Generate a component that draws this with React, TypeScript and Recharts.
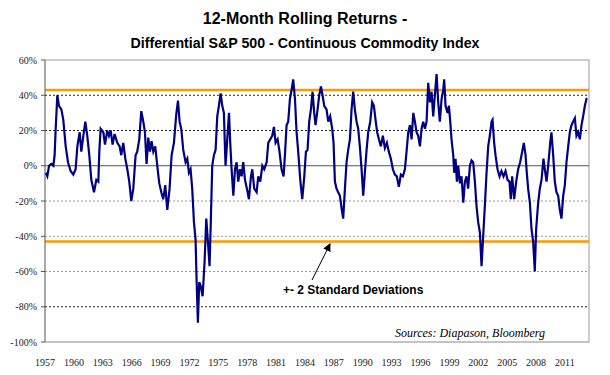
import React from 'react';
import { LineChart, Line, XAxis, YAxis, ReferenceLine } from 'recharts';

// Decimal years of the readings
const dates1 = [1957.07,1957.24,1957.42,1957.66,1957.87,1958.00,1958.11,1958.28,1958.45,1958.70,1958.90,1959.15,1959.39,1959.66,1959.94,1960.18,1960.36,1960.60,1960.77,1960.98,1961.19,1961.39,1961.60,1961.81,1962.09,1962.33,1962.54,1962.64,1962.78,1963.06,1963.23,1963.47,1963.64,1963.82,1964.02,1964.23,1964.51,1964.75,1964.92,1965.13,1965.34,1965.55,1965.75,1965.96,1966.17,1966.41,1966.58,1966.79,1967.00,1967.21,1967.38,1967.55,1967.73,1967.90,1968.07,1968.25,1968.45,1968.66,1968.87,1969.08,1969.28,1969.49,1969.70,1969.94,1970.15,1970.39,1970.63,1970.81,1970.98,1971.15,1971.36,1971.60,1971.78,1971.95,1972.12,1972.29,1972.47,1972.64,1972.74,1972.88,1973.02,1973.16,1973.37,1973.57,1973.75,1973.92,1974.09,1974.20,1974.37,1974.54,1974.72,1974.89,1975.06,1975.24,1975.41,1975.58,1975.75];
const values1 = [-4,-6,0,1,0,6,21,40,34,32,26,11,2,-3,-5,-2,11,19,8,17,25,17,6,-8,-15,-8,-9,8,21,19,12,20,17,20,12,18,13,11,6,13,4,-2,-9,-20,-13,6,8,15,31,25,19,1,16,8,14,8,11,0,-10,-15,-19,-11,-25,-13,6,13,29,37,25,21,9,2,4,-4,-2,-13,-32,-42,-64,-89,-66,-68,-74,-55,-30,-43,-57,-36,0,6,9,28,34,41,34,30,0];

const dates2 = [1976.11,1976.24,1976.38,1976.56,1976.73,1976.90,1977.07,1977.25,1977.42,1977.59,1977.77,1977.97,1978.18,1978.39,1978.53,1978.73,1978.98,1979.15,1979.36,1979.57,1979.77,1980.02,1980.19,1980.40,1980.60,1980.78,1980.95,1981.16,1981.33,1981.57,1981.78,1981.92,1982.09,1982.26,1982.44,1982.61,1982.78,1982.96,1983.13,1983.30,1983.51,1983.72,1983.93,1984.10,1984.27,1984.44,1984.62,1984.79,1984.96,1985.10,1985.31,1985.48,1985.66,1985.83,1986.00,1986.24,1986.42,1986.62,1986.83,1986.97,1987.11,1987.28,1987.45,1987.63,1987.80,1987.97,1988.15,1988.32,1988.49,1988.67,1988.84,1989.01,1989.18,1989.36,1989.53,1989.70,1989.88,1990.05,1990.22,1990.40,1990.57,1990.78,1990.98,1991.16,1991.33,1991.50,1991.68,1991.88,1992.09,1992.30,1992.51,1992.71,1992.92,1993.13,1993.34,1993.54,1993.75,1993.96,1994.17,1994.38];
const values2 = [30,13,-2,-17,-2,2,-9,-2,-6,2,-8,-13,-19,-6,-2,-13,-15,-6,-9,0,-2,2,13,15,17,22,13,15,9,-2,-6,6,23,25,38,43,49,38,19,8,-8,-19,-6,8,9,25,32,42,30,23,32,40,45,40,34,32,25,28,21,13,-9,-13,-15,-17,-24,-30,-13,2,9,15,32,42,32,25,21,11,-2,-17,-4,9,19,25,36,34,26,19,15,11,17,10,13,8,4,-2,-5,-6,-12,-5,-6,-2];

const dates3 = [1994.55,1994.73,1994.90,1995.07,1995.25,1995.42,1995.59,1995.76,1995.94,1996.11,1996.28,1996.46,1996.63,1996.80,1996.98,1997.15,1997.32,1997.49,1997.67,1997.84,1998.01,1998.19,1998.36,1998.46,1998.60,1998.81,1998.95,1999.09,1999.22,1999.40,1999.50,1999.64,1999.78,1999.92,2000.09,2000.26,2000.44,2000.61,2000.78,2000.95,2001.13,2001.30,2001.47,2001.65,2001.82,2001.99,2002.17,2002.34,2002.51,2002.68,2002.86,2003.03,2003.20,2003.38,2003.48,2003.65,2003.79,2004.00,2004.21,2004.41,2004.62,2004.83,2005.04,2005.24,2005.38,2005.52,2005.73,2005.94,2006.14,2006.35,2006.56,2006.73,2006.91,2007.04,2007.18,2007.36,2007.53,2007.70,2007.87,2008.01,2008.22,2008.39,2008.57,2008.77,2008.91,2009.09,2009.26,2009.47,2009.60,2009.78,2009.95,2010.12,2010.30,2010.47,2010.64,2010.82,2010.99,2011.16,2011.34,2011.51,2011.68,2011.85,2012.03,2012.20,2012.37,2012.55,2012.72,2012.89,2013.07,2013.24,2013.34];
const values3 = [8,19,23,15,30,25,19,17,11,21,25,21,25,47,36,42,28,40,52,36,25,38,43,49,34,30,34,25,15,6,-4,4,-9,0,-10,-6,-21,-9,-6,-13,0,3,2,-9,-23,-32,-38,-57,-40,-23,-4,11,17,25,26,13,6,-2,-6,-3,-6,-3,-8,-9,-19,-6,-19,-9,-2,2,8,13,6,-4,-13,-21,-36,-43,-60,-36,-21,-13,-8,4,-2,-9,0,13,19,6,-9,-15,-17,-25,-30,-17,-11,2,11,19,23,25,27,17,19,15,23,28,34,38,38];

const yTicks = [-100, -80, -60, -40, -20, 0, 20, 40, 60];
const xTicks = [1957,1960,1963,1966,1969,1972,1975,1978,1981,1984,1987,1990,1993,1996,1999,2002,2005,2008,2011];
const upperBand = 43;
const lowerBand = -43;
const darkGrid = [40, 20, -80];
const lightGrid = [-20, -40, -60];

const titleLine1 = '12-Month Rolling Returns -';
const titleLine2 = 'Differential S&P 500 - Continuous Commodity Index';
const annotation = '+- 2 Standard Deviations';
const sourceText = 'Sources: Diapason, Bloomberg';

const allDates = [...dates1, ...dates2, ...dates3];
const allValues = [...values1, ...values2, ...values3];
const data = allDates.map((t, i) => ({ t, v: allValues[i] }));

const SERIF = "'Liberation Serif', 'Times New Roman', serif";
const SANS = "'Liberation Sans', Arial, sans-serif";

const XTick = (props: any) => {
  const { x, y, payload } = props;
  return (
    <text x={x} y={y} dy="0.71em" textAnchor="middle" fontFamily={SERIF} fontSize={10} fill="#222">
      {payload.value}
    </text>
  );
};

const YTick = (props: any) => {
  const { x, y, payload } = props;
  return (
    <text x={x} y={y} dy="0.355em" textAnchor="end" fontFamily={SERIF} fontSize={10} fill="#222">
      {`${payload.value}%`}
    </text>
  );
};

export default function App() {
  return (
    <div style={{ position: 'absolute', left: 0, top: 0, width: 610, height: 375, background: '#fff' }}>
      <div style={{ position: 'absolute', left: 0, top: 6, width: 610, textAlign: 'center', fontFamily: SANS, fontWeight: 'bold', lineHeight: '25px', color: '#000' }}>
        <div style={{ fontSize: 16 }}>{titleLine1}</div>
        <div style={{ fontSize: 14.2 }}>{titleLine2}</div>
      </div>
      <LineChart width={610} height={375} data={data} margin={{ top: 60, right: 21, bottom: 0, left: 0 }} style={{ position: 'absolute', left: 0, top: 0 }}>
        <XAxis dataKey="t" type="number" domain={[1957, 2013.5]} ticks={xTicks} interval={0}
          tickLine={false} tickSize={0} tickMargin={17} axisLine={{ stroke: '#888' }} height={33}
          tick={<XTick />} />
        <YAxis type="number" domain={[-100, 60]} ticks={yTicks} interval={0} width={45}
          tickSize={4} tickMargin={4}
          tickLine={{ stroke: '#555' }} axisLine={{ stroke: '#555' }}
          tick={<YTick />} />
        {darkGrid.map((g) => (
          <ReferenceLine key={'d' + g} y={g} stroke="#222" strokeDasharray="2 2" />
        ))}
        {lightGrid.map((g) => (
          <ReferenceLine key={'l' + g} y={g} stroke="#999" strokeDasharray="2 2" />
        ))}
        <ReferenceLine y={60} stroke="#999" />
        <ReferenceLine x={2013.5} stroke="#999" />
        <ReferenceLine y={0} stroke="#555" />
        <ReferenceLine y={upperBand} stroke="#FF9900" strokeWidth={2.5} />
        <ReferenceLine y={lowerBand} stroke="#FF9900" strokeWidth={2.5} />
        <Line type="linear" dataKey="v" stroke="#000080" strokeWidth={2.2} dot={false} isAnimationActive={false} />
      </LineChart>
      <svg width={610} height={375} style={{ position: 'absolute', left: 0, top: 0, pointerEvents: 'none' }}>
        <defs>
          <marker id="arr" markerWidth="8" markerHeight="8" refX="7" refY="4" orient="auto" markerUnits="userSpaceOnUse">
            <path d="M0,0 L8,4 L0,8 Z" fill="#000" />
          </marker>
        </defs>
        <line x1={312} y1={280} x2={330} y2={244} stroke="#000" strokeWidth={1} markerEnd="url(#arr)" />
        <text x={283} y={294} fontFamily={SANS} fontWeight="bold" fontSize={12} fill="#000">{annotation}</text>
        <text x={545} y={337} textAnchor="end" fontFamily={SERIF} fontStyle="italic" fontSize={12} fill="#000">{sourceText}</text>
      </svg>
    </div>
  );
}
